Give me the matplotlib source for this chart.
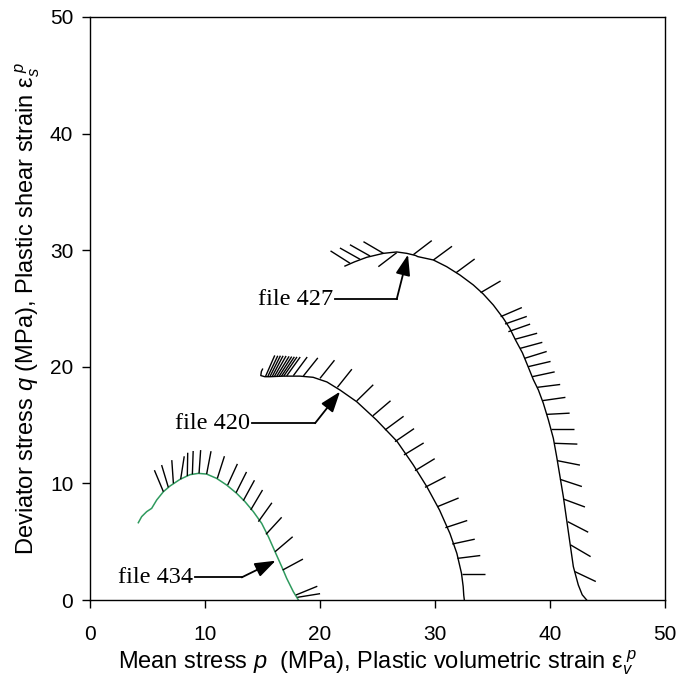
import numpy as np
import matplotlib
matplotlib.use("Agg")
import matplotlib.pyplot as plt
from matplotlib.collections import LineCollection

plt.rcParams['font.family'] = ['Liberation Sans', 'DejaVu Sans']
plt.rcParams['mathtext.fontset'] = 'custom'
plt.rcParams['mathtext.rm'] = 'Liberation Sans'
plt.rcParams['mathtext.it'] = 'Liberation Sans:italic'
plt.rcParams['mathtext.default'] = 'regular'

# yield loci (p, q) in MPa
p434 = [4.2, 4.49, 4.93, 5.36, 5.80, 6.38, 6.96, 7.83, 8.70, 9.42, 10.14, 11.01, 11.88,
        12.75, 13.48, 14.20, 14.93, 15.51, 16.09, 16.67, 17.10, 17.68, 18.12]
q434 = [6.63, 7.15, 7.58, 7.86, 8.58, 9.29, 9.78, 10.35, 10.75, 10.86, 10.80, 10.43, 9.86,
        9.15, 8.43, 7.58, 6.57, 5.43, 4.14, 2.86, 1.86, 0.71, 0.0]

p420 = [15.0, 14.9, 14.85, 15.2, 15.65, 16.8, 18.25, 19.4, 20.6, 21.75, 23.2, 24.9, 26.7,
        28.1, 29.3, 30.4, 31.3, 31.9, 32.3, 32.45, 32.5, 32.55]
q420 = [19.8, 19.6, 19.25, 19.15, 19.15, 19.2, 19.2, 19.1, 18.7, 18.0, 17.0, 15.45, 13.6,
        11.6, 9.7, 7.7, 5.7, 4.0, 2.3, 1.15, 0.4, 0.0]

p427 = [22.17, 23.0, 24.06, 25.51, 26.67, 27.54, 28.3, 28.5, 29.86, 31.01, 32.17, 33.33,
        34.20, 35.07, 35.94, 36.5, 37.0, 37.6, 38.1, 38.55, 38.99, 39.42, 39.86, 40.29,
        40.58, 40.87, 41.16, 41.45, 41.74, 42.03, 42.46, 42.8, 43.19]
q427 = [28.64, 29.0, 29.39, 29.73, 29.85, 29.73, 29.55, 29.45, 29.16, 28.59, 27.87, 27.02,
        26.24, 25.30, 24.16, 23.3, 22.3, 21.2, 20.0, 18.9, 18.01, 16.87, 15.44, 13.87,
        12.29, 10.58, 8.86, 6.86, 4.86, 2.86, 1.29, 0.45, 0.0]

# plastic strain increment directions: base point on locus + angle (deg)
vp434 = [6.38, 6.81, 7.25, 7.88, 8.46, 8.90, 9.48, 10.14, 11.07, 11.97, 12.70, 13.33, 13.97,
         14.64, 15.30, 16.09, 16.75, 17.91, 18.03]
vq434 = [9.29, 9.66, 10.0, 10.35, 10.63, 10.78, 10.86, 10.80, 10.43, 9.86, 9.20, 8.52, 7.72,
         6.72, 5.63, 4.14, 2.57, 0.43, 0.23]
va434 = [113, 107, 94, 81, 89, 88, 86, 79, 72, 65, 63, 61, 59, 54, 47, 40, 28, 22, 9]

vp420 = [15.25, 15.45, 15.65, 15.85, 16.05, 16.25, 16.45, 16.65, 16.85, 17.1,
         17.68, 18.55, 20.0, 21.51, 23.19, 24.6, 25.65, 26.52, 27.30, 28.26, 29.13,
         30.2, 30.9, 31.5, 31.95, 32.36]
vq420 = [19.15, 19.15, 19.17, 19.18, 19.2, 19.2, 19.2, 19.2, 19.21, 19.22,
         19.24, 19.21, 19.01, 18.24, 17.07, 15.8, 14.58, 13.58, 12.44, 11.09, 9.66,
         8.0, 6.2, 4.8, 3.57, 2.2]
va420 = [66, 64, 63, 62, 60, 58, 57, 56, 55, 54,
         53, 51, 51, 51, 44, 40, 36, 34, 31, 31, 27,
         22, 18, 12, 7, 0]

vp427 = [22.61, 23.48, 24.35, 25.51, 26.67, 28.12, 29.86, 31.83, 33.97, 35.71, 36.09, 36.38,
         36.95, 37.4, 37.8, 38.1, 38.45, 38.9, 39.36, 39.71, 40.06, 40.38, 40.64, 40.87,
         41.16, 41.54, 41.80, 42.17]
vq427 = [28.88, 29.22, 29.50, 29.73, 29.79, 29.62, 29.16, 28.07, 26.36, 24.30, 23.67, 23.01,
         22.36, 21.58, 20.73, 20.01, 19.15, 18.24, 17.10, 15.92, 14.64, 13.44, 11.95, 10.35,
         8.66, 6.72, 4.72, 2.43]
va427 = [148, 151, 151, 150, 217, 37, 36, 36, 30, 23, 19, 19,
         15, 15, 17, 13, 12, 7, 8, 3, 0, -2, -11, -18,
         -20, -27, -30, -25]

ticks = [0, 10, 20, 30, 40, 50]


def strain_ticks(ax, bx, by, ang, length=2.0):
    a = np.radians(ang)
    bx = np.array(bx); by = np.array(by)
    ex = bx + length * np.cos(a)
    ey = by + length * np.sin(a)
    segs = [[(x0, y0), (x1, y1)] for x0, y0, x1, y1 in zip(bx, by, ex, ey)]
    ax.add_collection(LineCollection(segs, colors='black', linewidths=1.0))


fig = plt.figure(figsize=(6.81, 6.88), dpi=100)
ax = fig.add_axes([0.1322, 0.1279, 0.8443, 0.8474])

ax.plot(p434, q434, color='#2f9a5e', lw=1.1)
ax.plot(p420, q420, color='black', lw=1.0)
ax.plot(p427, q427, color='black', lw=1.0)

strain_ticks(ax, vp434, vq434, va434)
strain_ticks(ax, vp420, vq420, va420)
strain_ticks(ax, vp427, vq427, va427)

serif = ['Liberation Serif', 'DejaVu Serif']
arrow = dict(arrowstyle='-|>,head_length=0.9,head_width=0.32', mutation_scale=14,
             color='black', lw=1.3, shrinkA=0, shrinkB=0)

# file 427
ax.text(21.15, 25.8, 'file 427', family=serif, fontsize=17.5, ha='right', va='center')
ax.plot([21.3, 26.67], [25.8, 25.8], color='black', lw=1.3)
ax.annotate('', xy=(27.65, 29.62), xytext=(26.67, 25.8), arrowprops=arrow)

# file 420
ax.text(13.9, 15.16, 'file 420', family=serif, fontsize=17.5, ha='right', va='center')
ax.plot([14.06, 19.57], [15.16, 15.16], color='black', lw=1.3)
ax.annotate('', xy=(21.74, 17.87), xytext=(19.57, 15.16), arrowprops=arrow)

# file 434
ax.text(8.95, 1.94, 'file 434', family=serif, fontsize=17.5, ha='right', va='center')
ax.plot([9.13, 13.19], [1.94, 1.94], color='black', lw=1.3)
ax.annotate('', xy=(16.14, 3.37), xytext=(13.19, 1.94), arrowprops=arrow)

ax.set_xlim(0, 50)
ax.set_ylim(0, 50)
ax.set_xticks(ticks)
ax.set_yticks(ticks)
ax.tick_params(direction='out', length=6, width=1, labelsize=15, top=False, right=False)
ax.tick_params(axis='x', pad=12)
ax.tick_params(axis='y', pad=6)
for s in ax.spines.values():
    s.set_linewidth(1.0)

ax.set_xlabel(r'Mean stress $\mathit{p}$  (MPa), Plastic volumetric strain $ε_\mathit{v}^{\ \mathit{p}}$',
              fontsize=17, labelpad=3)
ax.set_ylabel(r'Deviator stress $\mathit{q}$ (MPa), Plastic shear strain $ε_\mathit{s}^{\ \mathit{p}}$',
              fontsize=17, labelpad=6)

fig.savefig('out.png', dpi=100)
